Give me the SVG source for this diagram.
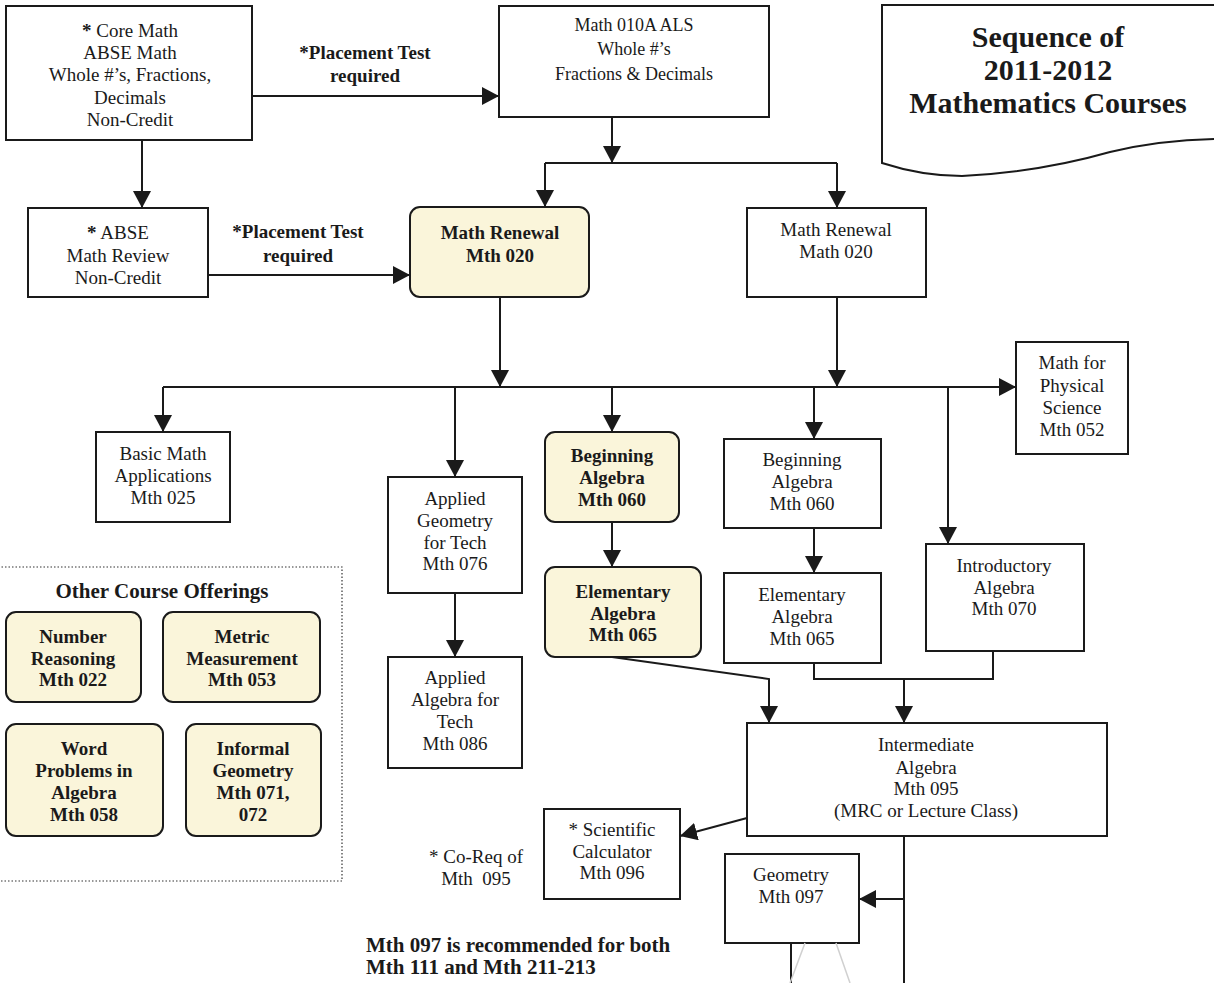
<svg xmlns="http://www.w3.org/2000/svg" width="1214" height="983" viewBox="0 0 1214 983">
<style>
.box{fill:#fff;stroke:#1a1a1a;stroke-width:2}
.ybox{fill:#FAF5DA;stroke:#1a1a1a;stroke-width:2}
.t{font-family:"Liberation Serif","Times New Roman",serif;font-size:19px;fill:#1a1a1a;text-anchor:middle}
.b{font-family:"Liberation Serif","Times New Roman",serif;font-size:19px;font-weight:bold;fill:#1a1a1a;text-anchor:middle}
.c line,.c polyline,.c path{stroke:#1a1a1a;stroke-width:2;fill:none}
.c .faint{stroke:#d0d0d0;stroke-width:1.5}
</style>
<defs>
<marker id="ah" viewBox="0 0 17 18" markerWidth="17" markerHeight="18" refX="17" refY="9" orient="auto" markerUnits="userSpaceOnUse">
<path d="M0,0 L17,9 L0,18 Z" fill="#1a1a1a"/>
</marker>
</defs>
<rect width="1214" height="983" fill="#fff"/>

<g id="title">
<path d="M882,5 H1216 V139 Q1160,140 1110,152 Q1040,172 962,176 Q922,176 882,163 Z" fill="#fff" stroke="#1a1a1a" stroke-width="2"/>
<text class="b" style="font-size:30px" x="1048" y="47">Sequence of</text>
<text class="b" style="font-size:30px" x="1048" y="80">2011-2012</text>
<text class="b" style="font-size:30px" x="1048" y="113">Mathematics Courses</text>
</g>

<g id="core-math">
<rect class="box" x="6" y="6" width="246" height="134"/>
<text class="t" x="130" y="37"><tspan font-weight="bold">*</tspan> Core Math</text>
<text class="t" x="130" y="59">ABSE Math</text>
<text class="t" x="130" y="81">Whole #’s, Fractions,</text>
<text class="t" x="130" y="104">Decimals</text>
<text class="t" x="130" y="126">Non-Credit</text>
</g>

<g id="math-010a">
<rect class="box" x="499" y="6" width="270" height="111"/>
<text class="t" style="font-size:18px" x="634" y="31">Math 010A ALS</text>
<text class="t" style="font-size:18px" x="634" y="55">Whole #’s</text>
<text class="t" style="font-size:18px" x="634" y="80">Fractions &amp; Decimals</text>
</g>

<g id="abse">
<rect class="box" x="28" y="208" width="180" height="89"/>
<text class="t" x="118" y="239"><tspan font-weight="bold">*</tspan> ABSE</text>
<text class="t" x="118" y="262">Math Review</text>
<text class="t" x="118" y="284">Non-Credit</text>
</g>

<g id="math-renewal-yellow">
<rect class="ybox" x="410" y="207" width="179" height="90" rx="10"/>
<text class="b" x="500" y="239">Math Renewal</text>
<text class="b" x="500" y="262">Mth 020</text>
</g>

<g id="math-renewal">
<rect class="box" x="747" y="208" width="179" height="89"/>
<text class="t" x="836" y="236">Math Renewal</text>
<text class="t" x="836" y="258">Math 020</text>
</g>

<g id="mth052">
<rect class="box" x="1016" y="342" width="112" height="112"/>
<text class="t" x="1072" y="369">Math for</text>
<text class="t" x="1072" y="392">Physical</text>
<text class="t" x="1072" y="414">Science</text>
<text class="t" x="1072" y="436">Mth 052</text>
</g>

<g id="mth025">
<rect class="box" x="96" y="432" width="134" height="90"/>
<text class="t" x="163" y="460">Basic Math</text>
<text class="t" x="163" y="482">Applications</text>
<text class="t" x="163" y="504">Mth 025</text>
</g>

<g id="mth076">
<rect class="box" x="388" y="477" width="134" height="116"/>
<text class="t" x="455" y="505">Applied</text>
<text class="t" x="455" y="527">Geometry</text>
<text class="t" x="455" y="549">for Tech</text>
<text class="t" x="455" y="570">Mth 076</text>
</g>

<g id="mth086">
<rect class="box" x="388" y="657" width="134" height="111"/>
<text class="t" x="455" y="684">Applied</text>
<text class="t" x="455" y="706">Algebra for</text>
<text class="t" x="455" y="728">Tech</text>
<text class="t" x="455" y="750">Mth 086</text>
</g>

<g id="mth060-yellow">
<rect class="ybox" x="545" y="432" width="134" height="90" rx="10"/>
<text class="b" x="612" y="462">Beginning</text>
<text class="b" x="612" y="484">Algebra</text>
<text class="b" x="612" y="506">Mth 060</text>
</g>

<g id="mth065-yellow">
<rect class="ybox" x="545" y="567" width="156" height="90" rx="10"/>
<text class="b" x="623" y="598">Elementary</text>
<text class="b" x="623" y="620">Algebra</text>
<text class="b" x="623" y="641">Mth 065</text>
</g>

<g id="mth060">
<rect class="box" x="724" y="439" width="157" height="89"/>
<text class="t" x="802" y="466">Beginning</text>
<text class="t" x="802" y="488">Algebra</text>
<text class="t" x="802" y="510">Mth 060</text>
</g>

<g id="mth065">
<rect class="box" x="724" y="573" width="157" height="90"/>
<text class="t" x="802" y="601">Elementary</text>
<text class="t" x="802" y="623">Algebra</text>
<text class="t" x="802" y="645">Mth 065</text>
</g>

<g id="mth070">
<rect class="box" x="926" y="544" width="158" height="107"/>
<text class="t" x="1004" y="572">Introductory</text>
<text class="t" x="1004" y="594">Algebra</text>
<text class="t" x="1004" y="615">Mth 070</text>
</g>

<g id="mth095">
<rect class="box" x="747" y="723" width="360" height="113"/>
<text class="t" x="926" y="751">Intermediate</text>
<text class="t" x="926" y="774">Algebra</text>
<text class="t" x="926" y="795">Mth 095</text>
<text class="t" x="926" y="817">(MRC or Lecture Class)</text>
</g>

<g id="mth096">
<rect class="box" x="544" y="809" width="136" height="90"/>
<text class="t" x="612" y="836">* Scientific</text>
<text class="t" x="612" y="858">Calculator</text>
<text class="t" x="612" y="879">Mth 096</text>
</g>

<g id="mth097">
<rect class="box" x="725" y="854" width="134" height="89"/>
<text class="t" x="791" y="881">Geometry</text>
<text class="t" x="791" y="903">Mth 097</text>
</g>

<g id="other-offerings">
<rect x="-2" y="567" width="344" height="314" fill="none" stroke="#333" stroke-width="1.2" stroke-dasharray="1.5,2"/>
<text class="b" style="font-size:21px" x="162" y="598">Other Course Offerings</text>
<g id="mth022">
<rect class="ybox" x="6" y="612" width="135" height="90" rx="10"/>
<text class="b" x="73" y="643">Number</text>
<text class="b" x="73" y="665">Reasoning</text>
<text class="b" x="73" y="686">Mth 022</text>
</g>
<g id="mth053">
<rect class="ybox" x="163" y="612" width="157" height="90" rx="10"/>
<text class="b" x="242" y="643">Metric</text>
<text class="b" x="242" y="665">Measurement</text>
<text class="b" x="242" y="686">Mth 053</text>
</g>
<g id="mth058">
<rect class="ybox" x="6" y="724" width="157" height="112" rx="10"/>
<text class="b" x="84" y="755">Word</text>
<text class="b" x="84" y="777">Problems in</text>
<text class="b" x="84" y="799">Algebra</text>
<text class="b" x="84" y="821">Mth 058</text>
</g>
<g id="mth071">
<rect class="ybox" x="186" y="724" width="135" height="112" rx="10"/>
<text class="b" x="253" y="755">Informal</text>
<text class="b" x="253" y="777">Geometry</text>
<text class="b" x="253" y="799">Mth 071,</text>
<text class="b" x="253" y="821">072</text>
</g>
</g>

<g id="labels">
<text class="b" x="365" y="59">*Placement Test</text>
<text class="b" x="365" y="82">required</text>
<text class="b" x="298" y="238">*Placement Test</text>
<text class="b" x="298" y="262">required</text>
<text class="t" x="476" y="863">* Co-Req of</text>
<text class="t" x="476" y="885" xml:space="preserve">Mth  095</text>
<text class="b" style="text-anchor:start;font-size:21px" x="366" y="952">Mth 097 is recommended for both</text>
<text class="b" style="text-anchor:start;font-size:21px" x="366" y="974">Mth 111 and Mth 211-213</text>
</g>

<g id="connectors" class="c">
<line x1="252" y1="96" x2="499" y2="96" marker-end="url(#ah)"/>
<line x1="142" y1="140" x2="142" y2="208" marker-end="url(#ah)"/>
<line x1="208" y1="275" x2="410" y2="275" marker-end="url(#ah)"/>
<line x1="612" y1="117" x2="612" y2="163" marker-end="url(#ah)"/>
<line x1="545" y1="163" x2="837" y2="163"/>
<line x1="545" y1="163" x2="545" y2="207" marker-end="url(#ah)"/>
<line x1="837" y1="163" x2="837" y2="208" marker-end="url(#ah)"/>
<line x1="500" y1="297" x2="500" y2="387" marker-end="url(#ah)"/>
<line x1="837" y1="297" x2="837" y2="387" marker-end="url(#ah)"/>
<line x1="163" y1="387" x2="1016" y2="387" marker-end="url(#ah)"/>
<line x1="163" y1="387" x2="163" y2="432" marker-end="url(#ah)"/>
<line x1="455" y1="387" x2="455" y2="477" marker-end="url(#ah)"/>
<line x1="612" y1="387" x2="612" y2="432" marker-end="url(#ah)"/>
<line x1="814" y1="387" x2="814" y2="439" marker-end="url(#ah)"/>
<line x1="948" y1="387" x2="948" y2="544" marker-end="url(#ah)"/>
<line x1="455" y1="593" x2="455" y2="657" marker-end="url(#ah)"/>
<line x1="612" y1="522" x2="612" y2="567" marker-end="url(#ah)"/>
<line x1="814" y1="528" x2="814" y2="573" marker-end="url(#ah)"/>
<polyline points="612,657 769,679 769,723" marker-end="url(#ah)"/>
<polyline points="814,663 814,679 993,679 993,651"/>
<line x1="904" y1="679" x2="904" y2="723" marker-end="url(#ah)"/>
<line x1="747" y1="818" x2="680" y2="836" marker-end="url(#ah)"/>
<line x1="904" y1="836" x2="904" y2="983"/>
<line x1="904" y1="899" x2="859" y2="899" marker-end="url(#ah)"/>
<line x1="791" y1="943" x2="791" y2="983"/>
<line class="faint" x1="805" y1="943" x2="790" y2="983"/>
<line class="faint" x1="836" y1="943" x2="850" y2="983"/>
</g>
</svg>
